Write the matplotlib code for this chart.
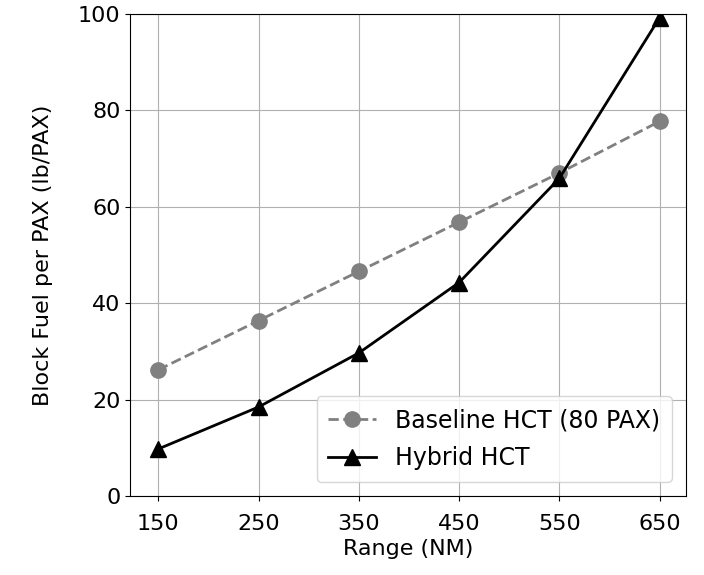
import matplotlib.pyplot as plt

ranges = [150, 250, 350, 450, 550, 650]
baseline = [26.2, 36.4, 46.6, 56.8, 67.0, 77.7]
hybrid = [9.8, 18.5, 29.7, 44.3, 65.9, 99.2]

plt.rcParams['font.size'] = 16

fig = plt.figure(figsize=(7.04, 5.75), dpi=100)
ax = fig.add_axes([0.185, 0.137, 0.789, 0.839])

ax.plot(ranges, baseline, '--o', color='grey', markersize=11, linewidth=2,
        label='Baseline HCT (80 PAX)')
ax.plot(ranges, hybrid, '-^', color='black', markersize=11, linewidth=2,
        label='Hybrid HCT')

ax.set_xticks(ranges)
ax.set_xlim(122, 676)
ax.set_ylim(0, 100)
ax.tick_params(axis='x', pad=9)
ax.set_xlabel('Range (NM)', labelpad=4)
ax.set_ylabel('Block Fuel per PAX (lb/PAX)', labelpad=18)
ax.grid(True)
ax.legend(loc='lower right', borderaxespad=0.6, fontsize=17, borderpad=0.5,
          labelspacing=0.6)

fig.savefig('out.png', dpi=100)
